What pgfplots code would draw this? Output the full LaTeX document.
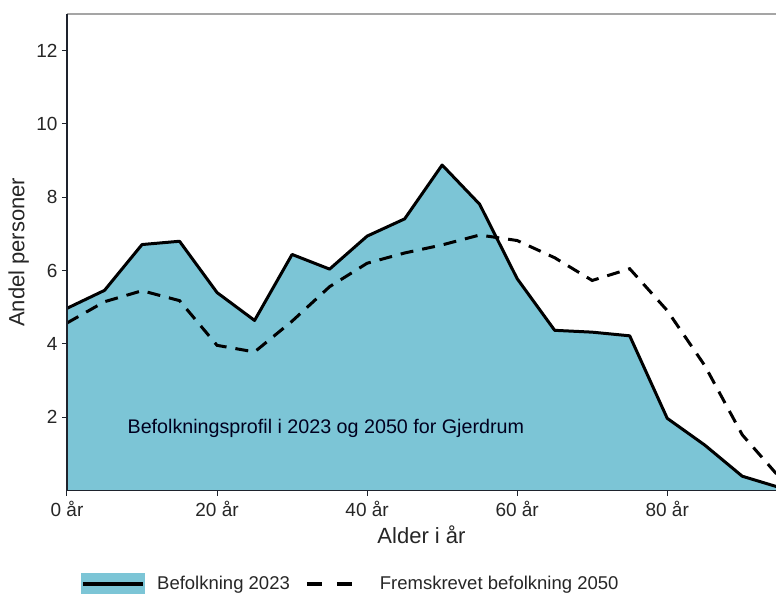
\documentclass[border=0pt]{standalone}
\usepackage{fontspec}
\setmainfont{Liberation Sans}
\usepackage{pgfplots}
\usepackage{pgfplotstable}
\pgfplotsset{compat=1.18}
\definecolor{areafill}{RGB}{124,197,214}
\definecolor{topgrey}{RGB}{165,165,165}
\definecolor{axisdark}{RGB}{30,35,45}

\pgfplotstableread{
age pop23 pop50
0  4.97 4.57
5  5.46 5.15
10 6.71 5.45
15 6.80 5.18
20 5.40 3.96
25 4.64 3.78
30 6.44 4.62
35 6.04 5.56
40 6.94 6.20
45 7.41 6.48
50 8.88 6.70
55 7.81 6.97
60 5.78 6.82
65 4.37 6.35
70 4.32 5.73
75 4.22 6.05
80 1.97 4.91
85 1.24 3.41
90 0.39 1.52
95 0.08 0.35
}\datatable

\begin{document}
\begin{tikzpicture}
\useasboundingbox (-67pt,-103.5pt) rectangle (709pt,490.5pt);
\begin{axis}[
  at={(0,0)}, anchor=south west,
  scale only axis, width=709pt, height=476.5pt,
  xmin=0, xmax=94.5, ymin=0, ymax=13,
  axis x line*=bottom, axis y line*=left,
  axis line style={axisdark, line width=1.3pt},
  axis on top,
  xtick={0,20,40,60,80},
  xticklabels={0 år,20 år,40 år,60 år,80 år},
  ytick={2,4,6,8,10,12},
  tick align=outside,
  major tick length=5pt,
  tick style={axisdark, line width=1pt},
  /pgf/number format/assume math mode=true,
  tick label style={font=\fontsize{19}{22}\selectfont, text=black!85},
  xticklabel style={yshift=-2pt},
  yticklabel style={xshift=-1pt},
  xlabel={Alder i år},
  ylabel={Andel personer},
  label style={font=\fontsize{22}{26}\selectfont, text=black!85},
  xlabel style={at={(axis description cs:0.5,-0.092)}, anchor=center},
  ylabel style={at={(axis description cs:-0.068,0.5)}, anchor=center},
  legend columns=2,
  legend style={at={(axis description cs:0.0155,-0.196)}, anchor=west,
    draw=none, fill=none, column sep=12pt,
    font=\fontsize{18.5}{22}\selectfont,
    nodes={inner sep=0pt, text=black!85}},
  legend cell align=left,
]
\addplot[fill=areafill, draw=none, forget plot] table[x=age,y=pop23] {\datatable} \closedcycle;
\addplot[black, line width=3pt, line join=round,
  legend image code/.code={
    \fill[areafill, draw=none] (0pt,-11pt) rectangle (64pt,11pt);
    \draw[black, solid, line width=3.5pt] (2pt,0pt) -- (62pt,0pt);
  }] table[x=age,y=pop23] {\datatable};
\addlegendentry{Befolkning 2023}
\addplot[black, line width=3pt, dash pattern=on 13pt off 9pt,
  legend image code/.code={
    \path[draw=none, fill=none] (0pt,-11pt) rectangle (66pt,11pt);
    \draw[black, solid, line width=3.5pt] (5pt,0pt) -- (20pt,0pt) (35pt,0pt) -- (50pt,0pt);
  }] table[x=age,y=pop50] {\datatable};
\addlegendentry{Fremskrevet befolkning 2050}
\draw[topgrey, line width=1.8pt] (rel axis cs:0,1) -- (rel axis cs:1,1);
\node[font=\fontsize{19.7}{23}\selectfont, text=black!80!blue!60!black, anchor=center]
  at (axis cs:34.5,1.7) {Befolkningsprofil i 2023 og 2050 for Gjerdrum};
\end{axis}
\end{tikzpicture}
\end{document}
